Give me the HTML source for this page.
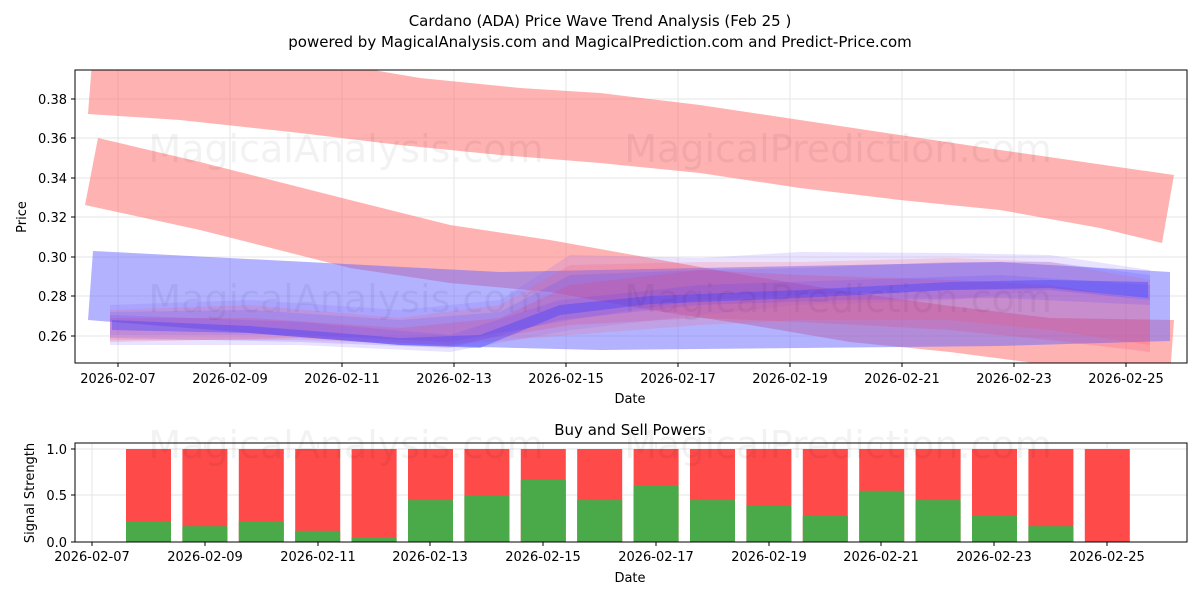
<!DOCTYPE html>
<html><head><meta charset="utf-8"><style>
body{margin:0;background:#fff;}
svg text{font-family:"DejaVu Sans","Liberation Sans",sans-serif;}
</style></head><body>
<svg width="1200" height="600" viewBox="0 0 1200 600" xmlns="http://www.w3.org/2000/svg">
<rect width="1200" height="600" fill="#fff"/>
<text x="600" y="26" font-size="15" text-anchor="middle">Cardano (ADA) Price Wave Trend Analysis (Feb 25 )</text>
<text x="600" y="47" font-size="15" text-anchor="middle">powered by MagicalAnalysis.com and MagicalPrediction.com and Predict-Price.com</text>
<defs><clipPath id="c1"><rect x="75" y="70" width="1112" height="293"/></clipPath></defs>
<g stroke="#e6e6e6" stroke-width="1">
<line x1="75" x2="1187" y1="99" y2="99"/><line x1="75" x2="1187" y1="138" y2="138"/><line x1="75" x2="1187" y1="178" y2="178"/><line x1="75" x2="1187" y1="217" y2="217"/><line x1="75" x2="1187" y1="257" y2="257"/><line x1="75" x2="1187" y1="296" y2="296"/><line x1="75" x2="1187" y1="336" y2="336"/>
<line x1="118" x2="118" y1="70" y2="363"/><line x1="230" x2="230" y1="70" y2="363"/><line x1="342" x2="342" y1="70" y2="363"/><line x1="454" x2="454" y1="70" y2="363"/><line x1="566" x2="566" y1="70" y2="363"/><line x1="678" x2="678" y1="70" y2="363"/><line x1="790" x2="790" y1="70" y2="363"/><line x1="902" x2="902" y1="70" y2="363"/><line x1="1014" x2="1014" y1="70" y2="363"/><line x1="1126" x2="1126" y1="70" y2="363"/>
</g>
<g clip-path="url(#c1)">
<path d="M92,62 L350,66 L420,78 L520,88 L600,93 L700,105 L800,120 L900,135 L1000,150 L1174,175 L1162,243 L1100,228 L1000,210 L900,200 L800,188 L700,173 L600,163 L500,155 L400,145 L300,133 L180,120 L88,114 Z" fill="#ff6666" fill-opacity="0.5"/>
<path d="M98,138 L200,162 L350,200 L450,225 L550,240 L650,258 L750,276 L850,292 L950,306 L1050,318 L1174,320 L1170,375 L1050,365 L950,352 L850,342 L750,325 L650,310 L550,292 L450,283 L350,268 L200,230 L85,205 Z" fill="#ff6666" fill-opacity="0.5"/>
<path d="M93,251 L500,272 L1000,262 L1170,272 L1170,341 L1000,346 L600,350 L400,345 L88,320 Z" fill="#6666ff" fill-opacity="0.5"/>
<g fill-opacity="0.18">
<path d="M110,305 L250,300 L400,310 L500,300 L570,255 L700,258 L800,252 L950,253 L1050,255 L1150,270 L1150,300 L1050,290 L950,300 L800,305 L700,315 L570,330 L450,352 L300,345 L110,345 Z" fill="#8866ff"/>
<path d="M110,310 L250,305 L400,318 L500,305 L570,265 L700,262 L800,262 L950,258 L1050,262 L1150,280 L1150,345 L1050,330 L950,320 L800,320 L700,325 L570,335 L450,345 L300,340 L110,340 Z" fill="#ff5566"/>
<path d="M110,312 L250,310 L400,320 L500,312 L570,275 L700,270 L800,268 L950,262 L1050,262 L1150,275 L1150,300 L1050,290 L950,290 L800,295 L700,300 L570,320 L450,342 L300,335 L110,335 Z" fill="#5555ff"/>
<path d="M110,318 L250,318 L400,328 L500,318 L570,285 L700,270 L800,275 L950,280 L1050,285 L1150,300 L1150,352 L1050,340 L950,330 L800,322 L700,318 L570,325 L450,345 L300,338 L110,342 Z" fill="#ee3366"/>
<path d="M110,315 L300,322 L450,335 L560,300 L700,285 L850,280 L1000,275 L1150,285 L1150,305 L1000,298 L850,300 L700,305 L560,320 L450,348 L300,342 L110,338 Z" fill="#6644ff"/>
</g>
<path d="M112,320 L250,326 L400,338 L480,335 L560,305 L650,296 L800,290 L950,282 L1050,280 L1148,282 L1148,298 L1050,288 L950,290 L800,298 L650,304 L560,315 L480,348 L400,345 L250,333 L112,330 Z" fill="#4444ff" fill-opacity="0.4"/>
</g>
<g font-size="38" fill="#000" fill-opacity="0.05" text-anchor="middle">
<text x="346" y="162">MagicalAnalysis.com</text>
<text x="838" y="162">MagicalPrediction.com</text>
<text x="346" y="312">MagicalAnalysis.com</text>
<text x="838" y="312">MagicalPrediction.com</text>
</g>
<rect x="75" y="70" width="1112" height="293" fill="none" stroke="#000" stroke-width="1"/>
<g font-size="13" text-anchor="end">
<text x="67" y="104">0.38</text><text x="67" y="143">0.36</text><text x="67" y="183">0.34</text><text x="67" y="222">0.32</text><text x="67" y="262">0.30</text><text x="67" y="301">0.28</text><text x="67" y="341">0.26</text>
</g>
<g stroke="#000"><line x1="71" x2="75" y1="99" y2="99"/><line x1="71" x2="75" y1="138" y2="138"/><line x1="71" x2="75" y1="178" y2="178"/><line x1="71" x2="75" y1="217" y2="217"/><line x1="71" x2="75" y1="257" y2="257"/><line x1="71" x2="75" y1="296" y2="296"/><line x1="71" x2="75" y1="336" y2="336"/>
<line x1="118" x2="118" y1="363" y2="367"/><line x1="230" x2="230" y1="363" y2="367"/><line x1="342" x2="342" y1="363" y2="367"/><line x1="454" x2="454" y1="363" y2="367"/><line x1="566" x2="566" y1="363" y2="367"/><line x1="678" x2="678" y1="363" y2="367"/><line x1="790" x2="790" y1="363" y2="367"/><line x1="902" x2="902" y1="363" y2="367"/><line x1="1014" x2="1014" y1="363" y2="367"/><line x1="1126" x2="1126" y1="363" y2="367"/></g>
<g font-size="13" text-anchor="middle">
<text x="118" y="383">2026-02-07</text><text x="230" y="383">2026-02-09</text><text x="342" y="383">2026-02-11</text><text x="454" y="383">2026-02-13</text><text x="566" y="383">2026-02-15</text><text x="678" y="383">2026-02-17</text><text x="790" y="383">2026-02-19</text><text x="902" y="383">2026-02-21</text><text x="1014" y="383">2026-02-23</text><text x="1126" y="383">2026-02-25</text>
<text x="630" y="403">Date</text>
</g>
<text transform="translate(26,217) rotate(-90)" font-size="13" text-anchor="middle">Price</text>

<text x="630" y="435" font-size="15" text-anchor="middle">Buy and Sell Powers</text>
<g stroke="#e6e6e6"><line x1="75" x2="1187" y1="449" y2="449"/><line x1="75" x2="1187" y1="495" y2="495"/>
<line x1="92" x2="92" y1="443" y2="542"/><line x1="205" x2="205" y1="443" y2="542"/><line x1="318" x2="318" y1="443" y2="542"/><line x1="430" x2="430" y1="443" y2="542"/><line x1="543" x2="543" y1="443" y2="542"/><line x1="656" x2="656" y1="443" y2="542"/><line x1="769" x2="769" y1="443" y2="542"/><line x1="881" x2="881" y1="443" y2="542"/><line x1="994" x2="994" y1="443" y2="542"/><line x1="1107" x2="1107" y1="443" y2="542"/></g>
<g fill="#ff4a4a">
<rect x="126" y="449" width="45" height="93"/><rect x="182.4" y="449" width="45" height="93"/><rect x="238.8" y="449" width="45" height="93"/><rect x="295.2" y="449" width="45" height="93"/><rect x="351.6" y="449" width="45" height="93"/><rect x="408" y="449" width="45" height="93"/><rect x="464.4" y="449" width="45" height="93"/><rect x="520.8" y="449" width="45" height="93"/><rect x="577.2" y="449" width="45" height="93"/><rect x="633.6" y="449" width="45" height="93"/><rect x="690" y="449" width="45" height="93"/><rect x="746.4" y="449" width="45" height="93"/><rect x="802.8" y="449" width="45" height="93"/><rect x="859.2" y="449" width="45" height="93"/><rect x="915.6" y="449" width="45" height="93"/><rect x="972" y="449" width="45" height="93"/><rect x="1028.4" y="449" width="45" height="93"/><rect x="1084.8" y="449" width="45" height="93"/>
</g>
<g fill="#4aaa4a">
<rect x="126" y="521.5" width="45" height="20.5"/><rect x="182.4" y="526.2" width="45" height="15.8"/><rect x="238.8" y="521.5" width="45" height="20.5"/><rect x="295.2" y="530.8" width="45" height="11.2"/><rect x="351.6" y="537.3" width="45" height="4.7"/><rect x="408" y="500.1" width="45" height="41.9"/><rect x="464.4" y="495.5" width="45" height="46.5"/><rect x="520.8" y="479.7" width="45" height="62.3"/><rect x="577.2" y="500.1" width="45" height="41.9"/><rect x="633.6" y="485.3" width="45" height="56.7"/><rect x="690" y="500.1" width="45" height="41.9"/><rect x="746.4" y="505.7" width="45" height="36.3"/><rect x="802.8" y="516" width="45" height="26"/><rect x="859.2" y="490.8" width="45" height="51.2"/><rect x="915.6" y="500.1" width="45" height="41.9"/><rect x="972" y="516" width="45" height="26"/><rect x="1028.4" y="526.2" width="45" height="15.8"/>
</g>
<g font-size="38" fill="#000" fill-opacity="0.05" text-anchor="middle">
<text x="346" y="458">MagicalAnalysis.com</text>
<text x="838" y="458">MagicalPrediction.com</text>
</g>
<rect x="75" y="443" width="1112" height="99" fill="none" stroke="#000"/>
<g font-size="13" text-anchor="end"><text x="67" y="547">0.0</text><text x="67" y="500">0.5</text><text x="67" y="454">1.0</text></g>
<g stroke="#000"><line x1="71" x2="75" y1="542" y2="542"/><line x1="71" x2="75" y1="495" y2="495"/><line x1="71" x2="75" y1="449" y2="449"/>
<line x1="92" x2="92" y1="542" y2="546"/><line x1="205" x2="205" y1="542" y2="546"/><line x1="318" x2="318" y1="542" y2="546"/><line x1="430" x2="430" y1="542" y2="546"/><line x1="543" x2="543" y1="542" y2="546"/><line x1="656" x2="656" y1="542" y2="546"/><line x1="769" x2="769" y1="542" y2="546"/><line x1="881" x2="881" y1="542" y2="546"/><line x1="994" x2="994" y1="542" y2="546"/><line x1="1107" x2="1107" y1="542" y2="546"/></g>
<g font-size="13" text-anchor="middle">
<text x="92" y="561">2026-02-07</text><text x="205" y="561">2026-02-09</text><text x="318" y="561">2026-02-11</text><text x="430" y="561">2026-02-13</text><text x="543" y="561">2026-02-15</text><text x="656" y="561">2026-02-17</text><text x="769" y="561">2026-02-19</text><text x="881" y="561">2026-02-21</text><text x="994" y="561">2026-02-23</text><text x="1107" y="561">2026-02-25</text>
<text x="630" y="582">Date</text></g>
<text transform="translate(34,493) rotate(-90)" font-size="13" text-anchor="middle">Signal Strength</text>
</svg>
</body></html>
